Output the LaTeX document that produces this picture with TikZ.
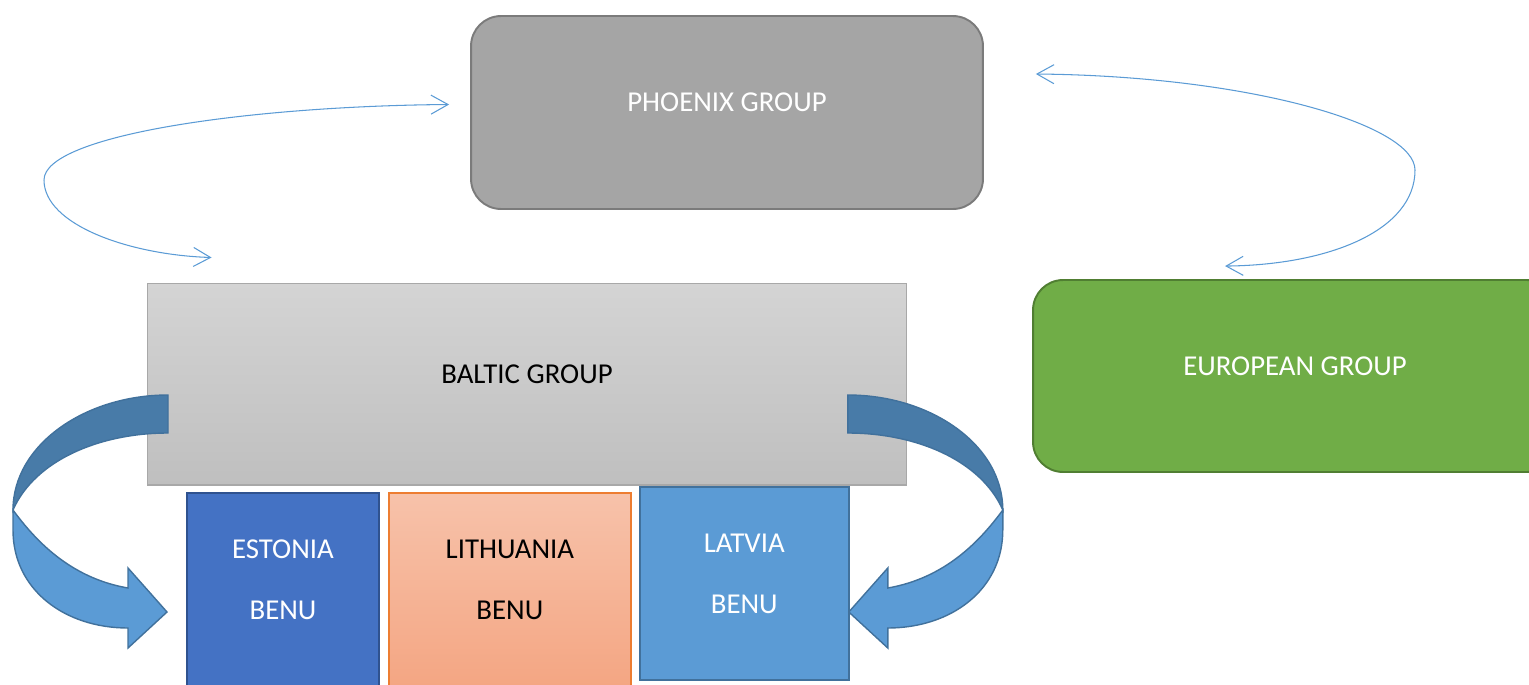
\documentclass[tikz,border=0pt]{standalone}
\usepackage{fontspec}
\setmainfont{Carlito}
\usepackage{tikz}
\usetikzlibrary{arrows.meta,positioning}

\definecolor{phoenixgray}{HTML}{A5A5A5}
\definecolor{phoenixedge}{HTML}{7B7B7B}
\definecolor{balticlight}{HTML}{D4D4D4}
\definecolor{balticdark}{HTML}{BFBFBF}
\definecolor{balticedge}{HTML}{A8A8A8}
\definecolor{eurogreen}{HTML}{70AD47}
\definecolor{euroedge}{HTML}{507E32}
\definecolor{estblue}{HTML}{4472C4}
\definecolor{estedge}{HTML}{2F528F}
\definecolor{lithlight}{HTML}{F7C2AA}
\definecolor{lithdark}{HTML}{F4A683}
\definecolor{lithedge}{HTML}{ED7D31}
\definecolor{latblue}{HTML}{5B9BD5}
\definecolor{latedge}{HTML}{41719C}
\definecolor{benddark}{HTML}{487BA8}
\definecolor{linkblue}{HTML}{5B9BD5}

\newcommand\bentarrow{%
	\path[bentband,fill=benddark] (168,395) .. controls (85,395) and (13,445) .. (13,510)
		.. controls (35,460) and (100,433) .. (168,433) -- cycle;
	\path[bentband,fill=latblue] (13,510) .. controls (35,540) and (70,578) .. (128,588)
		-- (128,568) -- (167,612) -- (128,648) -- (128,628)
		.. controls (65,628) and (13,590) .. (13,530) -- cycle;}

\begin{document}
\begin{tikzpicture}[x=0.02cm,y=-0.02cm,>={Straight Barb[length=0.34cm,width=0.38cm]},
	box/.style={draw,line width=1.1pt,inner sep=0pt,minimum height=3.86cm},
	txt/.style={font=\fontsize{16.4}{19.7}\selectfont,align=center,yshift=0.2cm},
	link/.style={<->,draw=linkblue,line width=0.6pt},
	bentband/.style={draw=latedge,line width=0.8pt}]

	\path[use as bounding box,clip] (0,0) rectangle (1529,684);

	\node[box,rounded corners=0.6cm,fill=phoenixgray,draw=phoenixedge,minimum width=10.24cm,
		label={[txt,white]center:PHOENIX GROUP}] (phoenix) at (727,112.5) {};
	\node[box,top color=balticlight,bottom color=balticdark,draw=balticedge,line width=0.6pt,
		minimum width=15.2cm,minimum height=4.04cm,
		label={[txt]center:BALTIC GROUP}] (baltic) at (527,384) {};
	\node[box,rounded corners=0.6cm,fill=eurogreen,draw=euroedge,minimum width=10.48cm,minimum height=3.84cm,
		label={[txt,white]center:EUROPEAN GROUP}] (european) at (1295,376) {};

	\node[box,fill=estblue,draw=estedge,minimum width=3.84cm,
		label={[txt,white]center:ESTONIA\\[15pt]BENU}] (estonia) at (283,589.5) {};
	\node[box,top color=lithlight,bottom color=lithdark,draw=lithedge,minimum width=4.84cm,
		label={[txt]center:LITHUANIA\\[15pt]BENU}] (lithuania) [right=0.16cm of estonia] {};
	\node[box,fill=latblue,draw=latedge,minimum width=4.18cm,
		label={[txt,white]center:LATVIA\\[15pt]BENU}] (latvia) [right=0.14cm of lithuania,yshift=0.12cm] {};

	\bentarrow
	\begin{scope}[xshift=20.32cm,xscale=-1]
		\bentarrow
	\end{scope}

	\coordinate (l1) at ([shift={(-21,-8)}]phoenix.west);
	\coordinate (l2) at ([shift={(65,-25)}]baltic.north west);
	\coordinate (r1) at ([shift={(52,-38.5)}]phoenix.east);
	\coordinate (r2) at ([shift={(193,-13)}]european.north west);

	\draw[link] (l1) .. controls (250,106) and (44,135) .. (44,180)
		.. controls (44,225) and (130,255) .. (l2);
	\draw[link] (r1) .. controls (1250,76) and (1415,125) .. (1415,170)
		.. controls (1415,230) and (1330,265) .. (r2);
\end{tikzpicture}
\end{document}
